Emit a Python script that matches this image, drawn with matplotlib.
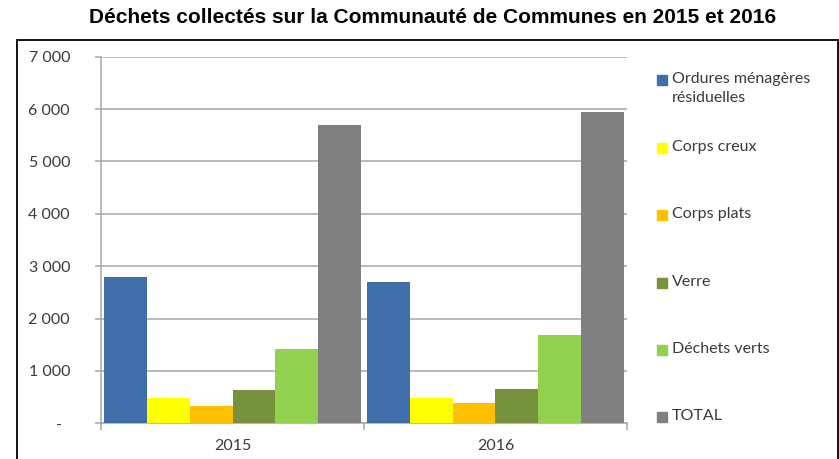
import matplotlib
matplotlib.use("Agg")
import matplotlib.pyplot as plt
from matplotlib.patches import Rectangle
import numpy as np

years = ["2015", "2016"]
series = ["Ordures ménagères\nrésiduelles", "Corps creux", "Corps plats",
          "Verre", "Déchets verts", "TOTAL"]
ordures = [2790, 2705]
corps_creux = [480, 485]
corps_plats = [330, 380]
verre = [637, 655]
dechets_verts = [1420, 1685]
total = [5695, 5950]
colors = ["#3F6EA8", "#FFFF00", "#FFC000", "#76923C", "#92D050", "#808080"]

yticks = [0, 1000, 2000, 3000, 4000, 5000, 6000, 7000]
ytick_labels = ["-  ", "1 000", "2 000", "3 000", "4 000", "5 000", "6 000", "7 000"]

values = [ordures, corps_creux, corps_plats, verre, dechets_verts, total]
font = ["Lato", "DejaVu Sans"]
txt_color = "#3A3A3A"

fig = plt.figure(figsize=(8.39, 4.59), dpi=100)
ax = fig.add_axes([0.1204, 0.0778, 0.6269, 0.7987])

x = np.arange(len(years))
w = 0.98 / 6
for i, (vals, col) in enumerate(zip(values, colors)):
    ax.bar(x + (i - 2.5) * w, vals, w, color=col, zorder=3)

ax.set_xlim(-0.5, 1.5)
ax.set_ylim(0, 7000)
ax.set_yticks(yticks)
ax.set_yticklabels(ytick_labels)
ax.yaxis.grid(True, color="#A6A6A6", linewidth=1.1, zorder=0)

# category ticks at the group boundaries, labels centred
ax.set_xticks([-0.5, 0.5, 1.5])
ax.set_xticklabels([])
ax.set_xticks(x, minor=True)
ax.set_xticklabels(years, minor=True)
ax.tick_params(axis="x", which="major", length=5, color="#A6A6A6", width=1.1)
ax.tick_params(axis="x", which="minor", length=0, pad=11)
ax.tick_params(axis="y", length=4.3, color="#A6A6A6", width=1.1, pad=18)
for lab in ax.get_yticklabels() + ax.get_xticklabels(minor=True):
    lab.set_fontfamily(font)
    lab.set_fontsize(11.5)
    lab.set_color(txt_color)

for s in ["top", "right"]:
    ax.spines[s].set_visible(False)
ax.spines["left"].set_color("#A6A6A6")
ax.spines["bottom"].set_color("#A6A6A6")
ax.spines["left"].set_linewidth(1.1)
ax.spines["bottom"].set_linewidth(1.1)

# legend drawn by hand so the square sits on the first line of each label
H, W = 459.0, 839.0
leg_y = [80, 148, 215, 283, 350, 417]
for name, col, yy in zip(series, colors, leg_y):
    fig.add_artist(Rectangle((657 / W, 1 - (yy + 5) / H), 10 / W, 10 / H,
                             transform=fig.transFigure, color=col))
    fig.text(672 / W, 1 - (yy - 8) / H, name, ha="left", va="top",
             fontsize=11.5, family=font, color=txt_color, linespacing=1.45)

fig.text(0.515, 0.962, "Déchets collectés sur la Communauté de Communes en 2015 et 2016",
         ha="center", va="center", fontsize=15, fontweight="bold",
         family=["Liberation Sans Narrow", "Liberation Sans", "DejaVu Sans"])

# outer frame under the title
fig.add_artist(Rectangle((17 / W, -0.01), 821 / W, 1 - 40 / H + 0.01,
                         transform=fig.transFigure, fill=False,
                         edgecolor="black", linewidth=1.3))

fig.savefig("out.png", dpi=100)
